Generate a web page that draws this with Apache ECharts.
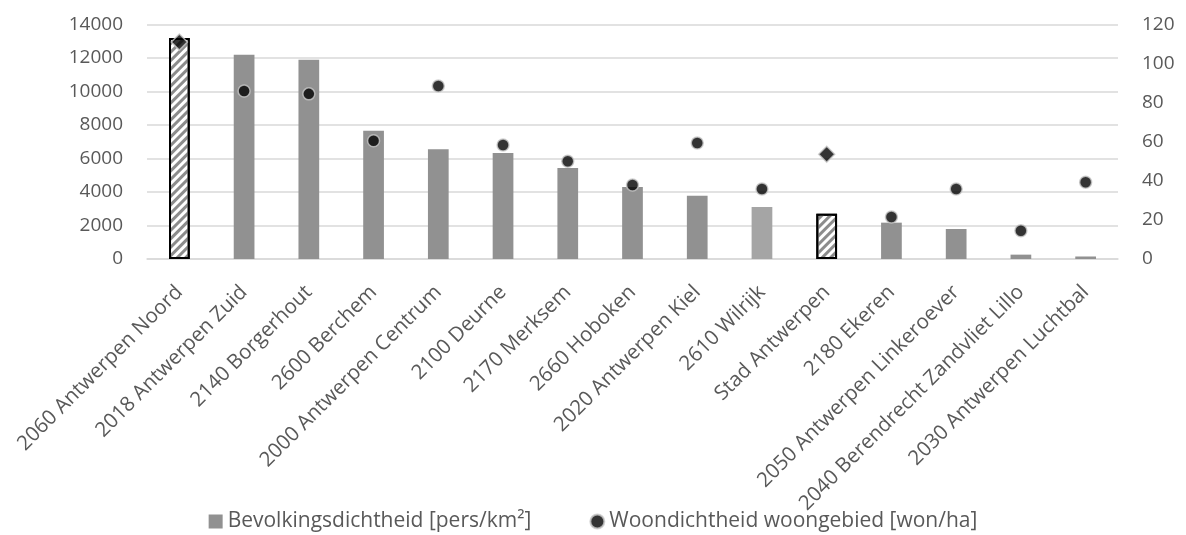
<!DOCTYPE html>
<html>
<head>
<meta charset="utf-8">
<script src="https://cdn.jsdelivr.net/npm/echarts@6/dist/echarts.min.js"></script>
<style>
  html, body { margin: 0; padding: 0; background: #fff; }
  #chart { width: 1186px; height: 535px; }
</style>
</head>
<body>
<div id="chart"></div>
<script>
// Postcodes / districts of Antwerpen
const categories = [
  '2060 Antwerpen Noord', '2018 Antwerpen Zuid', '2140 Borgerhout', '2600 Berchem',
  '2000 Antwerpen Centrum', '2100 Deurne', '2170 Merksem', '2660 Hoboken',
  '2020 Antwerpen Kiel', '2610 Wilrijk', 'Stad Antwerpen', '2180 Ekeren',
  '2050 Antwerpen Linkeroever', '2040 Berendrecht Zandvliet Lillo', '2030 Antwerpen Luchtbal'
];
// Bevolkingsdichtheid [pers/km²]
const populationDensity = [13200, 12200, 11900, 7650, 6550, 6330, 5430, 4300, 3770, 3100, 2700, 2170, 1790, 260, 150];
// Woondichtheid woongebied [won/ha]
const housingDensity = [111, 86, 84.5, 60.5, 88.5, 58.3, 50, 37.9, 59.4, 35.8, 53.6, 21.5, 35.8, 14.5, 39.3];
// Axis ticks
const leftTicks = [0, 2000, 4000, 6000, 8000, 10000, 12000, 14000];
const rightTicks = [0, 20, 40, 60, 80, 100, 120];

const hatched = ['2060 Antwerpen Noord', 'Stad Antwerpen'];
const lighter = ['2610 Wilrijk'];

const FONT = 'Open Sans';
const TXT = '#595959';

const barData = populationDensity.map((v, i) => {
  const name = categories[i];
  if (hatched.includes(name)) {
    return {
      value: v,
      itemStyle: {
        color: '#ffffff',
        borderColor: '#000000',
        borderWidth: 2,
        decal: {
          symbol: 'rect',
          color: '#8c8c8c',
          dashArrayX: [1, 0],
          dashArrayY: [2.5, 2.5],
          rotation: -Math.PI / 4,
          symbolSize: 1
        }
      }
    };
  }
  if (lighter.includes(name)) {
    return { value: v, itemStyle: { color: '#a5a5a5' } };
  }
  return v;
});

const scatterData = housingDensity.map((v, i) => {
  if (hatched.includes(categories[i])) {
    return { value: v, symbol: 'diamond', symbolSize: 16 };
  }
  return v;
});

const chart = echarts.init(document.getElementById('chart'), null, { renderer: 'canvas' });
chart.setOption({
  animation: false,
  aria: { enabled: false, decal: { show: false } },
  textStyle: { fontFamily: FONT },
  grid: { left: 147, right: 68, top: 24.5, bottom: 276, containLabel: false },
  legend: {
    top: 506,
    left: 'center',
    itemGap: 58,
    itemWidth: 14,
    itemHeight: 14,
    textStyle: { fontFamily: FONT, fontSize: 21, color: TXT },
    data: [
      { name: 'Bevolkingsdichtheid [pers/km²]', icon: 'rect', itemStyle: { color: '#919191' } },
      { name: 'Woondichtheid woongebied [won/ha]', icon: 'circle' }
    ]
  },
  xAxis: {
    type: 'category',
    data: categories,
    axisLine: { show: true, lineStyle: { color: '#d9d9d9', width: 1.5 } },
    axisTick: { show: false },
    axisLabel: {
      rotate: 45,
      interval: 0,
      margin: 30,
      fontFamily: FONT,
      fontSize: 20.5,
      color: TXT
    }
  },
  yAxis: [
    {
      type: 'value',
      min: leftTicks[0],
      max: leftTicks[leftTicks.length - 1],
      interval: leftTicks[1] - leftTicks[0],
      axisLine: { show: false },
      axisTick: { show: false },
      axisLabel: { fontFamily: FONT, fontSize: 19, color: TXT, margin: 24, formatter: (v) => String(v) },
      splitLine: { lineStyle: { color: '#d9d9d9', width: 1.5 } }
    },
    {
      type: 'value',
      min: rightTicks[0],
      max: rightTicks[rightTicks.length - 1],
      interval: rightTicks[1] - rightTicks[0],
      axisLine: { show: false },
      axisTick: { show: false },
      axisLabel: { fontFamily: FONT, fontSize: 19, color: TXT, margin: 24, formatter: (v) => String(v) },
      splitLine: { show: false }
    }
  ],
  series: [
    {
      name: 'Bevolkingsdichtheid [pers/km²]',
      type: 'bar',
      yAxisIndex: 0,
      barWidth: '32%',
      itemStyle: { color: '#919191' },
      data: barData,
      z: 2
    },
    {
      name: 'Woondichtheid woongebied [won/ha]',
      type: 'scatter',
      yAxisIndex: 1,
      symbol: 'circle',
      symbolSize: 12,
      itemStyle: { color: '#000000', borderColor: '#c8c8c8', borderWidth: 1.5 },
      data: scatterData,
      z: 3
    }
  ]
});
</script>
</body>
</html>
